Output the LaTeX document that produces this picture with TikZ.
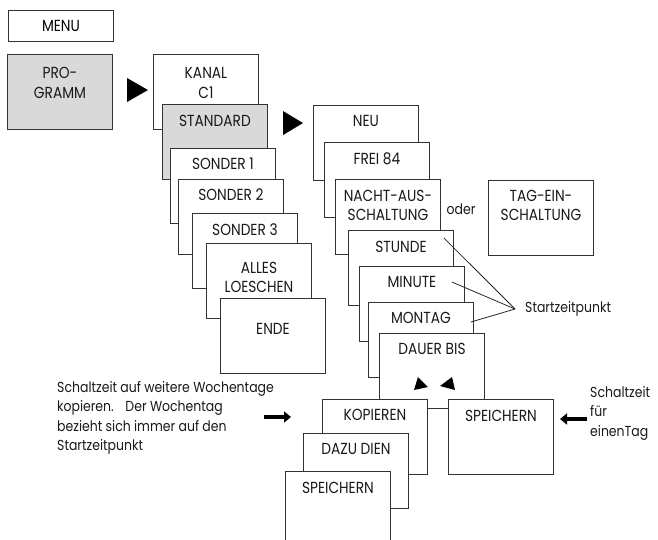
\documentclass[tikz,border=0pt]{standalone}
\usepackage{fontspec}
\setmainfont{Poppins}[FakeStretch=0.86]
\usetikzlibrary{positioning,arrows.meta}

\begin{document}
\begin{tikzpicture}[x=1pt, y=-1pt,
    font=\fontsize{16}{19.5}\selectfont,
    menubox/.style={rectangle, draw=black!80, line width=0.9pt, fill=white, anchor=north west, minimum width=105pt, minimum height=75pt, inner sep=0pt},
    shaded/.style={fill=gray!30},
    boxtext/.style={align=center, inner sep=0pt, text=black!90},
    note/.style={align=left, inner sep=0pt, text=black!90, font=\fontsize{14.5}{19.5}\selectfont},
    fatarrow/.style={-{Triangle[length=7pt, width=11pt]}, line width=4pt},
    pointer/.style={fill=black},
    thin line/.style={line width=0.8pt, draw=black!85},
]
\useasboundingbox (0,0) rectangle (658,539);

% Menu entry
\node[menubox, minimum height=31pt] (menu) at (8,10) {MENU};
\node[menubox, shaded, label={[boxtext, below=13.5pt]north:{PRO-\\GRAMM}}] (programm) at (7,54) {};
\fill[pointer] (127,78) -- (127,102) -- (148,90) -- cycle;

% First stack: channel and programs
\node[menubox, label={[boxtext, below=13.5pt]north:{KANAL\\C1}}] (kanal) at (153,54) {};
\node[menubox, shaded, label={[boxtext, below=10.5pt]north:STANDARD}] (standard) at (162,104) {};
\node[menubox, label={[boxtext, below=10pt]north:SONDER 1}] (sonder1) at (170,148) {};
\node[menubox, label={[boxtext, below=10pt]north:SONDER 2}] (sonder2) at (178,179) {};
\node[menubox, label={[boxtext, below=10.5pt]north:SONDER 3}] (sonder3) at (192,213) {};
\node[menubox, label={[boxtext, below=18.5pt]north:{ALLES\\LOESCHEN}}] (alles) at (206,243) {};
\node[menubox, label={[boxtext, below=25.5pt]north:ENDE}] (ende) at (220,298) {};
\fill[pointer] (283,111) -- (283,135) -- (303,123) -- cycle;

% Second stack: switching times
\node[menubox, label={[boxtext, below=10pt]north:NEU}] (neu) at (313,105) {};
\node[menubox, label={[boxtext, below=10.5pt]north:FREI 84}] (frei) at (324,142) {};
\node[menubox, label={[boxtext, below=10.5pt]north:{NACHT-AUS-\\SCHALTUNG}}] (nacht) at (335,179) {};
\node[note] (oder) at (461,209) {oder};
\node[menubox, label={[boxtext, below=10pt]north:{TAG-EIN-\\SCHALTUNG}}] (tag) at (488,180) {};
\node[menubox, label={[boxtext, below=10.5pt]north:STUNDE}] (stunde) at (348,230) {};
\node[menubox, label={[boxtext, below=10.5pt]north:MINUTE}] (minute) at (359,266) {};
\node[menubox, label={[boxtext, below=10.5pt]north:MONTAG}] (montag) at (368,302) {};
\node[menubox, label={[boxtext, below=10pt]north:DAUER BIS}] (dauer) at (379,333) {};
\fill[pointer] (414,390) -- (418,377) -- (428,387) -- cycle;
\fill[pointer] (440,386) -- (452,377) -- (455,390) -- cycle;

% Start time
\coordinate (stundept) at ([shift={(-10,8)}]stunde.north east);
\coordinate (minutept) at ([shift={(-13,16)}]minute.north east);
\coordinate (montagpt) at ([shift={(-3,20)}]montag.north east);
\node[note, inner xsep=10pt, anchor=west] (startzeit) at (515,309) {Startzeitpunkt};
\draw[thin line] (stundept) -- (startzeit.west);
\draw[thin line] (minutept) -- (startzeit.west);
\draw[thin line] (montagpt) -- (startzeit.west);

% Store or copy
\node[menubox, label={[boxtext, below=10.5pt]north:SPEICHERN}] (speicherntag) at (448,399) {};
\node[menubox, label={[boxtext, below=10pt]north:KOPIEREN}] (kopieren) at (322,399) {};
\node[menubox, label={[boxtext, below=10.5pt]north:DAZU DIEN}] (dazu) at (303,433) {};
\node[menubox, label={[boxtext, below=10.5pt]north:SPEICHERN}] (speichernkopie) at (285,471) {};

% Notes
\node[note, anchor=north west] (copynote) at (57,381) {Schaltzeit auf weitere Wochentage\\kopieren.\hspace{0.5em} Der Wochentag\\bezieht sich immer auf den\\Startzeitpunkt};
\coordinate (copytail) at (264,417);
\coordinate (copyhead) at (291,417);
\draw[fatarrow] (copytail) -- (copyhead);

\node[note, anchor=north west] (daynote) at (590,386) {Schaltzeit\\für\\einenTag};
\coordinate (daytail) at (587,419);
\coordinate (dayhead) at (560,419);
\draw[fatarrow] (daytail) -- (dayhead);

\end{tikzpicture}
\end{document}
